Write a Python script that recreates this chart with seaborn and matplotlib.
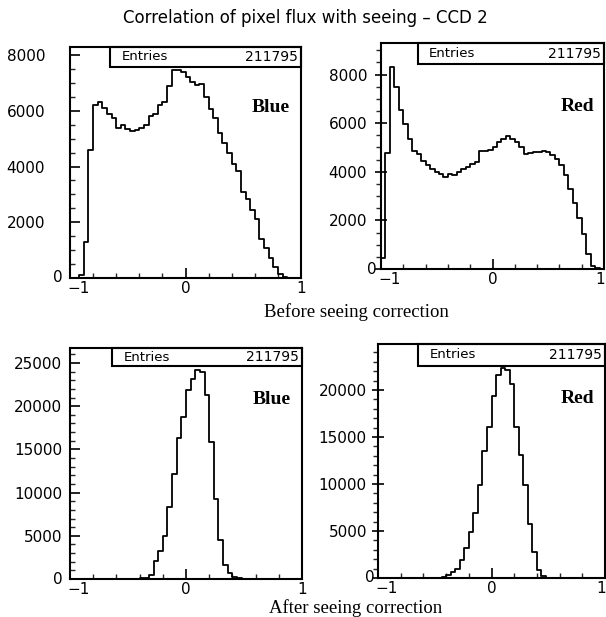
import numpy as np
import pandas as pd
import matplotlib
matplotlib.use("Agg")
import matplotlib.pyplot as plt
import matplotlib.transforms as mtrans
from matplotlib.ticker import MultipleLocator, FixedLocator, FuncFormatter
from matplotlib.patches import Rectangle
import seaborn as sns

# ---------------- data ----------------
n_bins = 50
x_range = (-1, 1)
bin_edges = np.linspace(x_range[0], x_range[1], n_bins + 1)
bin_centers = 0.5 * (bin_edges[:-1] + bin_edges[1:])

blue_before = [0, 0, 100, 1300, 4600, 6200, 6300, 6100, 5900, 5750,
               5380, 5500, 5330, 5280, 5320, 5400, 5500, 5800, 5900, 6200,
               6300, 6900, 7480, 7450, 7400, 7200, 7050, 6930, 6950, 6500,
               6050, 5750, 5200, 4850, 4480, 4100, 3850, 3100, 2850, 2450,
               2100, 1400, 1080, 720, 380, 140, 50, 0, 0, 0]

red_before = [450, 4757, 8315, 7488, 6523, 5971, 5350, 4868, 4730, 4454,
              4275, 4110, 4000, 3900, 3800, 3900, 3880, 4010, 4110, 4210,
              4320, 4390, 4840, 4840, 4900, 5010, 5210, 5350, 5490, 5350,
              5210, 5010, 4750, 4760, 4800, 4800, 4840, 4800, 4700, 4520,
              4300, 3850, 3300, 2730, 2110, 1450, 630, 130, 40, 0]

blue_after = [0, 0, 0, 0, 0, 0, 0, 0, 0, 0,
              0, 0, 0, 0, 30, 60, 150, 500, 2040, 3190,
              4920, 8380, 12100, 16270, 18770, 21850, 23190, 24150, 23960, 21270,
              15880, 9230, 4540, 1580, 690, 190, 60, 20, 0, 0,
              0, 0, 0, 0, 0, 0, 0, 0, 0, 0]

red_after = [0, 0, 0, 0, 0, 0, 0, 0, 0, 0,
             0, 0, 20, 40, 80, 285, 640, 1000, 1890, 3140,
             4930, 6960, 9930, 13500, 16100, 19390, 21600, 22320, 22180, 20640,
             16100, 13140, 9930, 5750, 2790, 890, 180, 40, 20, 0,
             0, 0, 0, 0, 0, 0, 0, 0, 0, 0]

entries = [211795, 211795, 211795, 211795]
panel_labels = ["Blue", "Red", "Blue", "Red"]
title = "Correlation of pixel flux with seeing \u2013 CCD 2"
row_labels = ["Before seeing correction", "After seeing correction"]
x_ticks = [-1, 0, 1]

# ---------------- styling ----------------
sns.set_theme(style="white")
plt.rcParams['font.family'] = ['DejaVu Sans']

W, H = 606, 617
fig = plt.figure(figsize=(W / 100, H / 100), dpi=100)

def px_axes(l, r, t, b):
    return fig.add_axes([l / W, 1 - b / H, (r - l) / W, (b - t) / H])

panels = [
    dict(rect=(70, 301, 47, 278), data=blue_before, ymax=8290, major=2000, minor=500,
         side="in", ypad=18.0, zero_gap=5.0, box_x=0.173, box_h=0.086, lab=(0.87, 0.74)),
    dict(rect=(381, 604, 43, 269), data=red_before, ymax=9300, major=2000, minor=500,
         side="out", ypad=6.0, zero_gap=3.0, box_x=0.166, box_h=0.093, lab=(0.879, 0.717)),
    dict(rect=(70, 302, 348, 579), data=blue_after, ymax=26730, major=5000, minor=1000,
         side="in", ypad=5.5, zero_gap=5.0, box_x=0.181, box_h=0.080, lab=(0.871, 0.775)),
    dict(rect=(378, 605, 344, 578), data=red_after, ymax=24900, major=5000, minor=1000,
         side="out", ypad=4.0, zero_gap=2.5, box_x=0.176, box_h=0.094, lab=(0.877, 0.765)),
]

for i, p in enumerate(panels):
    ax = px_axes(*p["rect"])
    df = pd.DataFrame({"x": bin_centers, "w": p["data"]})
    sns.histplot(data=df, x="x", weights="w", bins=n_bins, binrange=x_range,
                 element="step", fill=False, color="black", linewidth=1.3, ax=ax)
    ax.set_xlabel("")
    ax.set_ylabel("")
    ax.set_xlim(-1, 1)
    ax.set_ylim(0, p["ymax"])
    for s in ax.spines.values():
        s.set_color("black")
        s.set_linewidth(1.5)

    right_panel = (p["side"] == "out")

    # x axis
    ax.xaxis.set_major_locator(FixedLocator(x_ticks))
    ax.xaxis.set_minor_locator(MultipleLocator(0.2))
    if right_panel:
        ax.xaxis.set_major_formatter(FuncFormatter(lambda v, pos: "" if v in (-1, 1) else f"{v:g}"))
    else:
        ax.xaxis.set_major_formatter(FuncFormatter(lambda v, pos: "" if v == -1 else f"{v:g}"))
    ax.tick_params(axis="x", which="major", direction="in", length=7, width=1.2,
                   labelsize=11, pad=2.5, colors="black", bottom=True, top=False)
    ax.tick_params(axis="x", which="minor", direction="in", length=3.5, width=1.0,
                   bottom=True, top=False)
    ax.text(-1, 0, "\u22121", ha="center", va="top", fontsize=11, color="black",
            transform=mtrans.offset_copy(ax.get_xaxis_transform(), fig=fig,
                                         x=6, y=-2.5, units="points"))
    if right_panel:
        ax.text(1, 0, "1", ha="right", va="top", fontsize=11, color="black",
                transform=mtrans.offset_copy(ax.get_xaxis_transform(), fig=fig,
                                             x=0.5, y=-2.5, units="points"))

    # y axis
    ax.yaxis.set_major_locator(MultipleLocator(p["major"]))
    ax.yaxis.set_minor_locator(MultipleLocator(p["minor"]))
    ax.yaxis.set_major_formatter(FuncFormatter(lambda v, pos: "" if v == 0 else f"{v:.0f}"))
    if not right_panel:
        ax.tick_params(axis="y", which="major", direction="in", length=7, width=1.2,
                       labelsize=11, pad=p["ypad"], colors="black", left=True, right=False)
        ax.tick_params(axis="y", which="minor", direction="in", length=3.5, width=1.0,
                       left=True, right=False)
    else:
        ax.tick_params(axis="y", which="major", direction="inout", length=8, width=1.2,
                       labelsize=11, pad=p["ypad"], colors="black", left=True, right=False)
        ax.tick_params(axis="y", which="minor", direction="out", length=3.5, width=1.0,
                       left=True, right=False)
    ax.text(0, 0, "0", ha="right", va="center", fontsize=11, color="black",
            transform=mtrans.offset_copy(ax.get_yaxis_transform(), fig=fig,
                                         x=-p["zero_gap"], y=0, units="points"))

    # statistics box
    bx, bh = p["box_x"], p["box_h"]
    ax.add_patch(Rectangle((bx, 1 - bh), 1 - bx, bh, transform=ax.transAxes,
                           fill=False, edgecolor="black", linewidth=1.5, clip_on=False))
    ax.text(bx + 0.05, 1 - bh / 2, "Entries", transform=ax.transAxes, ha="left",
            va="center", fontsize=9.5, color="black")
    ax.text(0.985, 1 - bh / 2, f"{entries[i]}", transform=ax.transAxes, ha="right",
            va="center", fontsize=10, color="black")

    # panel label
    ax.text(p["lab"][0], p["lab"][1], panel_labels[i], transform=ax.transAxes,
            ha="center", va="center", fontsize=14, fontweight="bold",
            family=["Liberation Serif", "DejaVu Serif"], color="black")

fig.text(305 / W, 1 - 18 / H, title, ha="center", va="center", fontsize=12, color="black")
fig.text(356 / W, 1 - 312 / H, row_labels[0], ha="center", va="center", fontsize=13.5,
         family=["Liberation Serif", "DejaVu Serif"], color="black")
fig.text(356 / W, 1 - 608 / H, row_labels[1], ha="center", va="center", fontsize=13.5,
         family=["Liberation Serif", "DejaVu Serif"], color="black")

fig.savefig("out.png", dpi=100, facecolor="white")
